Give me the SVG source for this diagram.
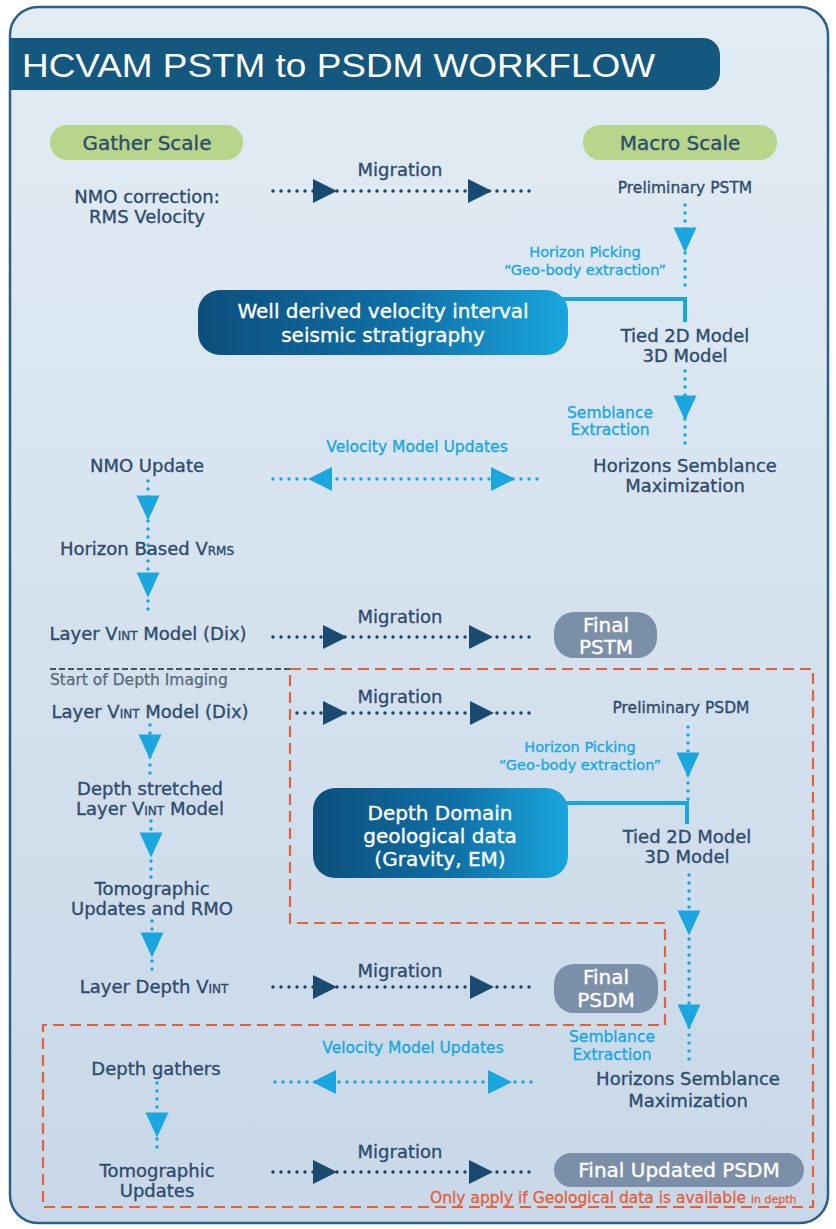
<svg xmlns="http://www.w3.org/2000/svg" xmlns:xlink="http://www.w3.org/1999/xlink" width="836" height="1229" viewBox="0 0 836 1229">
<style>
.t{font-family:"DejaVu Sans","Liberation Sans",sans-serif;fill:#2f4b6b;stroke:#2f4b6b;stroke-width:0.35;text-anchor:middle}
.s20{font-size:20px}.s18{font-size:18px}.s155{font-size:15.5px}.s145{font-size:14.5px}
.lb{fill:#1aa7e0;stroke:#1aa7e0}
.w{fill:#ffffff;stroke:#ffffff}
.dotD{stroke:#1d4466;stroke-width:3.5;stroke-dasharray:0 8;stroke-linecap:round;fill:none}
.dotL{stroke:#1aa7e0;stroke-width:3.5;stroke-dasharray:0 8;stroke-linecap:round;fill:none}
.arD{fill:#1b4a70}
.arL{fill:#1aa7e0}
.solid{stroke:#1aa7e0;stroke-width:4;fill:none}
.green{fill:#b7d68c}
.grey{fill:#7b90a8}
.blue{fill:url(#boxg)}
</style>
<defs>
<linearGradient id="bg" x1="0" y1="0" x2="0" y2="1">
<stop offset="0" stop-color="#e2ecf4"/>
<stop offset="1" stop-color="#c8d8e8"/>
</linearGradient>
<linearGradient id="boxg" x1="0" y1="0" x2="1" y2="0">
<stop offset="0" stop-color="#0d4f7c"/>
<stop offset="0.55" stop-color="#0f6fa6"/>
<stop offset="1" stop-color="#1aa6de"/>
</linearGradient>
<path id="aR" d="M-12,-12 L12,0 L-12,12 Z"/>
<path id="aL" d="M12,-12 L-12,0 L12,12 Z"/>
<path id="aDn" d="M-11.5,-12.5 L11.5,-12.5 L0,12.5 Z"/>
</defs>
<rect width="836" height="1229" fill="#ffffff"/>
<g id="panel">
<rect x="10" y="7" width="818" height="1216" rx="28" fill="url(#bg)" stroke="#2b5f86" stroke-width="2.5"/>
</g>
<g id="title">
<path d="M10,38 H703 A17,17 0 0 1 720,55 V73 A17,17 0 0 1 703,90 H10 Z" fill="#14577f"/>
<text x="22" y="77" font-family="Liberation Sans, sans-serif" font-size="34" fill="#ffffff" textLength="633" lengthAdjust="spacingAndGlyphs">HCVAM PSTM to PSDM WORKFLOW</text>
</g>
<g id="regions">
<path d="M50,669 H290" stroke="#4a5560" stroke-width="2" stroke-dasharray="6 3" fill="none"/>
<path d="M290,669 H813 V1207 H43 V1025 H665 V923 H290 Z" stroke="#e2603a" stroke-width="2.2" stroke-dasharray="11 6" fill="none"/>
<text x="50" y="685" font-family="DejaVu Sans, sans-serif" font-size="15.5" fill="#5a6878" stroke="#5a6878" stroke-width="0.25">Start of Depth Imaging</text>
</g>
<g id="connectors">
<path class="dotD" d="M273,191 H532"/>
<use xlink:href="#aR" x="325" y="191" class="arD"/>
<use xlink:href="#aR" x="480" y="191" class="arD"/>
<path class="dotD" d="M273,637 H535"/>
<use xlink:href="#aR" x="335" y="637" class="arD"/>
<use xlink:href="#aR" x="481" y="637" class="arD"/>
<path class="dotD" d="M297,713 H535"/>
<use xlink:href="#aR" x="335" y="713" class="arD"/>
<use xlink:href="#aR" x="482" y="713" class="arD"/>
<path class="dotD" d="M273,987 H535"/>
<use xlink:href="#aR" x="325" y="987" class="arD"/>
<use xlink:href="#aR" x="482" y="987" class="arD"/>
<path class="dotD" d="M273,1172 H535"/>
<use xlink:href="#aR" x="325" y="1172" class="arD"/>
<use xlink:href="#aR" x="481" y="1172" class="arD"/>
<path class="dotL" d="M273,479 H542"/>
<use xlink:href="#aL" x="320" y="479" class="arL"/>
<use xlink:href="#aR" x="503" y="479" class="arL"/>
<path class="dotL" d="M275,1082 H537"/>
<use xlink:href="#aL" x="324" y="1082" class="arL"/>
<use xlink:href="#aR" x="500" y="1082" class="arL"/>
<path class="dotL" d="M685,205 V287"/>
<use xlink:href="#aDn" x="685" y="240" class="arL"/>
<path class="dotL" d="M685,371 V445"/>
<use xlink:href="#aDn" x="685" y="408" class="arL"/>
<path class="dotL" d="M148,481 V613"/>
<use xlink:href="#aDn" x="148" y="508" class="arL"/>
<use xlink:href="#aDn" x="148" y="585" class="arL"/>
<path class="dotL" d="M150,725 V778"/>
<use xlink:href="#aDn" x="150" y="747" class="arL"/>
<path class="dotL" d="M151,821 V878"/>
<use xlink:href="#aDn" x="151" y="845" class="arL"/>
<path class="dotL" d="M152,921 V975"/>
<use xlink:href="#aDn" x="152" y="945" class="arL"/>
<path class="dotL" d="M688,727 V800"/>
<use xlink:href="#aDn" x="688" y="765" class="arL"/>
<path class="dotL" d="M689,875 V1063"/>
<use xlink:href="#aDn" x="689" y="923" class="arL"/>
<use xlink:href="#aDn" x="689" y="1017" class="arL"/>
<path class="dotL" d="M157,1083 V1155"/>
<use xlink:href="#aDn" x="157" y="1125" class="arL"/>
<path class="solid" d="M555,299 H685 V322"/>
<path class="solid" d="M555,803 H687 V824"/>
<text class="t s18" x="400" y="176">Migration</text>
<text class="t s18" x="400" y="623">Migration</text>
<text class="t s18" x="400" y="703">Migration</text>
<text class="t s18" x="400" y="977">Migration</text>
<text class="t s18" x="400" y="1158">Migration</text>
<text class="t s155 lb" x="417" y="452">Velocity Model Updates</text>
<text class="t s155 lb" x="413" y="1053">Velocity Model Updates</text>
<text class="t s145 lb" x="585" y="257">Horizon Picking</text>
<text class="t s145 lb" x="585" y="275">“Geo-body extraction”</text>
<text class="t s145 lb" x="580" y="752">Horizon Picking</text>
<text class="t s145 lb" x="580" y="770">“Geo-body extraction”</text>
<text class="t s155 lb" x="610" y="418">Semblance</text>
<text class="t s155 lb" x="610" y="435">Extraction</text>
<text class="t s155 lb" x="612" y="1042">Semblance</text>
<text class="t s155 lb" x="612" y="1060">Extraction</text>
</g>
<g id="gather-scale">
<rect class="green" x="50" y="125" width="193" height="35" rx="17"/>
<text class="t s20" x="147" y="150">Gather Scale</text>
</g>
<g id="macro-scale">
<rect class="green" x="583" y="125" width="194" height="35" rx="17"/>
<text class="t s20" x="680" y="150">Macro Scale</text>
</g>
<g id="nmo-correction">
<text class="t s18" x="147" y="203">NMO correction:</text>
<text class="t s18" x="147" y="223">RMS Velocity</text>
</g>
<g id="preliminary-pstm">
<text class="t s155" x="685" y="193">Preliminary PSTM</text>
</g>
<g id="well-box">
<rect class="blue" x="198" y="290" width="370" height="65" rx="22"/>
<text class="t s20 w" x="383" y="318">Well derived velocity interval</text>
<text class="t s20 w" x="383" y="342">seismic stratigraphy</text>
</g>
<g id="tied-model-1">
<text class="t s18" x="685" y="342">Tied 2D Model</text>
<text class="t s18" x="685" y="362">3D Model</text>
</g>
<g id="horizons-semblance-1">
<text class="t s18" x="685" y="472">Horizons Semblance</text>
<text class="t s18" x="685" y="492">Maximization</text>
</g>
<g id="nmo-update">
<text class="t s18" x="147" y="472">NMO Update</text>
</g>
<g id="horizon-vrms">
<text class="t s18" x="147" y="555">Horizon Based V<tspan font-size="12">RMS</tspan></text>
</g>
<g id="layer-vint-1">
<text class="t s18" x="148" y="640">Layer V<tspan font-size="12">INT</tspan> Model (Dix)</text>
</g>
<g id="final-pstm">
<rect class="grey" x="554" y="612" width="103" height="46" rx="20"/>
<text class="t s20 w" x="606" y="632">Final</text>
<text class="t s20 w" x="606" y="654">PSTM</text>
</g>
<g id="layer-vint-2">
<text class="t s18" x="150" y="718">Layer V<tspan font-size="12">INT</tspan> Model (Dix)</text>
</g>
<g id="preliminary-psdm">
<text class="t s155" x="681" y="713">Preliminary PSDM</text>
</g>
<g id="depth-box">
<rect class="blue" x="313" y="788" width="255" height="90" rx="22"/>
<text class="t s20 w" x="440" y="820">Depth Domain</text>
<text class="t s20 w" x="440" y="843">geological data</text>
<text class="t s20 w" x="440" y="866">(Gravity, EM)</text>
</g>
<g id="tied-model-2">
<text class="t s18" x="687" y="843">Tied 2D Model</text>
<text class="t s18" x="687" y="863">3D Model</text>
</g>
<g id="depth-stretched">
<text class="t s18" x="150" y="795">Depth stretched</text>
<text class="t s18" x="150" y="815">Layer V<tspan font-size="12">INT</tspan> Model</text>
</g>
<g id="tomographic-rmo">
<text class="t s18" x="152" y="895">Tomographic</text>
<text class="t s18" x="152" y="915">Updates and RMO</text>
</g>
<g id="layer-depth-vint">
<text class="t s18" x="154" y="993">Layer Depth V<tspan font-size="12">INT</tspan></text>
</g>
<g id="final-psdm">
<rect class="grey" x="554" y="964" width="104" height="49" rx="20"/>
<text class="t s20 w" x="606" y="984">Final</text>
<text class="t s20 w" x="606" y="1007">PSDM</text>
</g>
<g id="depth-gathers">
<text class="t s18" x="156" y="1075">Depth gathers</text>
</g>
<g id="horizons-semblance-2">
<text class="t s18" x="688" y="1085">Horizons Semblance</text>
<text class="t s18" x="688" y="1107">Maximization</text>
</g>
<g id="tomographic-updates">
<text class="t s18" x="157" y="1177">Tomographic</text>
<text class="t s18" x="157" y="1197">Updates</text>
</g>
<g id="final-updated-psdm">
<rect class="grey" x="554" y="1153" width="250" height="34" rx="17"/>
<text class="t s20 w" x="679" y="1177">Final Updated PSDM</text>
</g>
<g id="note">
<text x="430" y="1203" font-family="DejaVu Sans, sans-serif" font-size="15.5" fill="#e2603a" stroke="#e2603a" stroke-width="0.3">Only apply if Geological data is available <tspan font-size="11">in depth</tspan></text>
</g>
</svg>
